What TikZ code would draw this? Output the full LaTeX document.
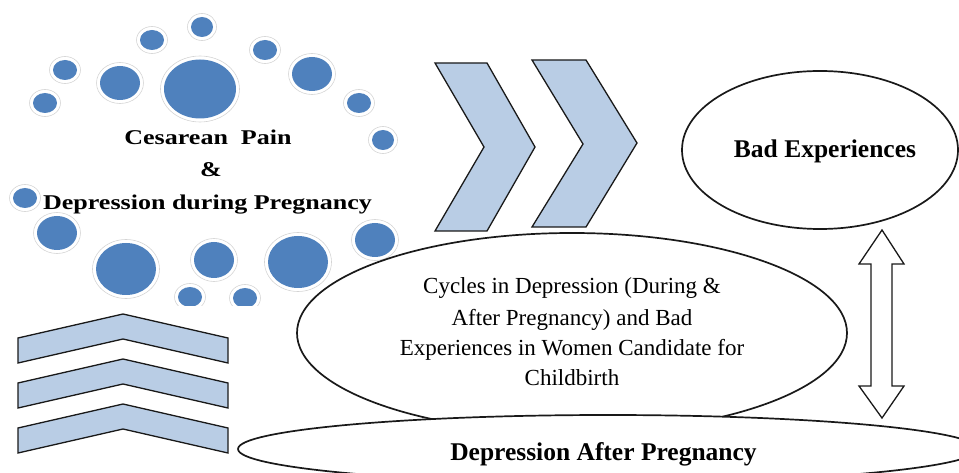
\documentclass[tikz,border=0pt]{standalone}
\usepackage{fontspec}
\setmainfont{Liberation Serif}
\usetikzlibrary{shapes.geometric}
\definecolor{dotblue}{RGB}{79,129,189}
\definecolor{chevfill}{RGB}{185,205,229}
\newcommand\bubble[4]{%
  \fill[dotblue] (#1,#2) ellipse [x radius=#3pt, y radius=#4pt];
  \draw[halo] (#1,#2) ellipse [x radius={(#3+3.5)*1pt}, y radius={(#4+3.5)*1pt}];}
\begin{document}
\begin{tikzpicture}[x=1pt,y=-1pt,
  halo/.style={draw=black!17, line width=0.6pt},
  chev/.style={fill=chevfill, draw=black!90, line width=1.3pt, line join=miter},
  oval/.style={draw=black!90, line width=1.7pt, fill=white, ellipse, inner sep=0pt},
  lefttxt/.style={font=\bfseries\fontsize{21}{21}\selectfont, anchor=base, inner sep=0pt},
  midtxt/.style={font=\fontsize{23}{23}\selectfont, anchor=base, inner sep=0pt},
  bigtxt/.style={font=\bfseries\fontsize{25.5}{26}\selectfont, anchor=base, inner sep=0pt}]
\useasboundingbox (0,0) rectangle (959,473);
% bubbles
\begin{scope}
\clip (0,0) rectangle (420,305);
\bubble{200}{89}{36}{29.5}
\bubble{152}{40}{12}{10}
\bubble{202}{27}{11}{10}
\bubble{265}{50}{12}{10}
\bubble{312}{74}{20}{17}
\bubble{359}{103}{12}{10}
\bubble{383}{140}{11}{10}
\bubble{120}{83}{20}{17}
\bubble{65}{70}{12}{10}
\bubble{45}{103}{12}{10}
\bubble{25}{198}{12}{10}
\bubble{57}{233}{20}{17}
\bubble{126}{269}{30}{26}
\bubble{214}{260}{20}{18}
\bubble{298}{262}{30}{26}
\bubble{375}{240}{20}{17}
\bubble{190}{297}{12}{10}
\bubble{245}{298}{12}{10}
\end{scope}
\node[lefttxt] (cp) at (208,145) {\scalebox{1.24}[1]{Cesarean\ \ Pain}};
\node[lefttxt] (amp) at (211,177) {\scalebox{1.24}[1]{\&}};
\node[lefttxt] (ddp) at (207.5,210) {\scalebox{1.24}[1]{Depression during Pregnancy}};
% right chevrons
\draw[chev] (435,63) -- (487,63) -- (535,147) -- (487,231) -- (435,231) -- (484,147) -- cycle;
\draw[chev] (532,60) -- (586,60) -- (637,143) -- (586,227) -- (532,227) -- (583,144) -- cycle;
% up chevrons
\foreach \d in {0,45,90}{
  \draw[chev] (18,338+\d) -- (123,314+\d) -- (228,338+\d) -- (228,363+\d) -- (123,339+\d) -- (18,363+\d) -- cycle;
}
% ellipses
\node[oval, minimum width=276pt, minimum height=158pt] (bad) at (820,150) {};
\node[bigtxt] (badt) at (825,158) {Bad Experiences};
\node[oval, minimum width=550pt, minimum height=200pt] (mid) at (572,333) {};
\node[midtxt] (m1) at (572,294) {Cycles in Depression (During \&};
\node[midtxt] (m2) at (572,325) {After Pregnancy) and Bad};
\node[midtxt] (m3) at (572,355) {Experiences in Women Candidate for};
\node[midtxt] (m4) at (572,385) {Childbirth};
\node[oval, minimum width=740pt, minimum height=68pt] (after) at (608,449) {};
\node[bigtxt] (aftert) at (603.5,460) {Depression After Pregnancy};
% double arrow
\draw[fill=white, draw=black!90, line width=1.3pt, line join=miter]
  (882,230) -- (904,264) -- (892,264) -- (892,386) -- (904,386) -- (882,418)
  -- (859,386) -- (871,386) -- (871,264) -- (859,264) -- cycle;
\end{tikzpicture}
\end{document}
